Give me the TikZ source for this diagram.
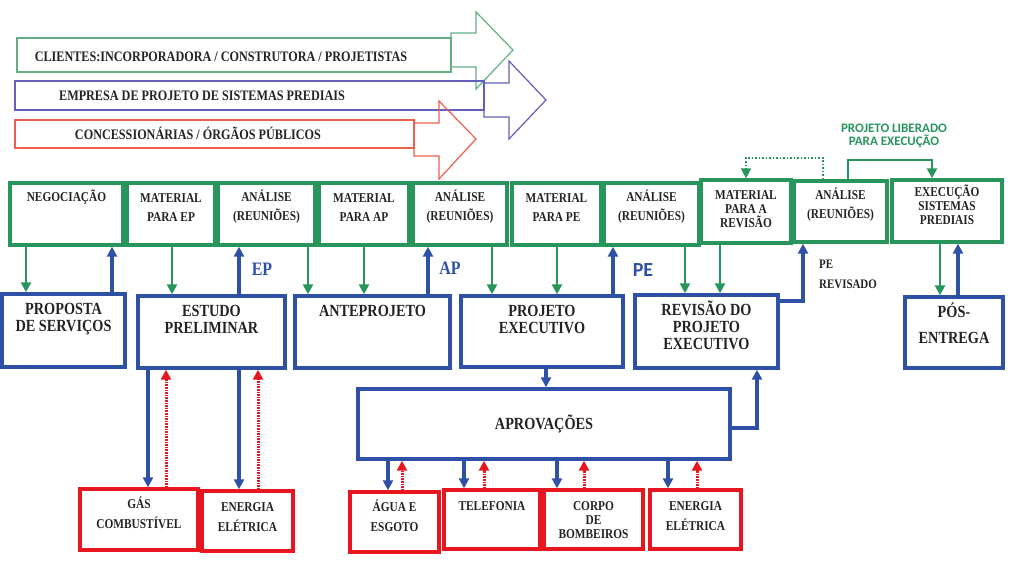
\documentclass[tikz,border=0pt]{standalone}
\usepackage{fontspec}
\setmainfont{Liberation Serif}[FakeStretch=0.84]
\newfontfamily\labelfont{Carlito}
\usepackage{tikz}
\usetikzlibrary{arrows.meta}

\definecolor{grn}{RGB}{40,150,92}
\definecolor{blu}{RGB}{46,80,165}
\definecolor{rd}{RGB}{232,22,30}
\definecolor{txt}{RGB}{35,35,35}
\definecolor{garr}{RGB}{100,175,130}
\definecolor{barr}{RGB}{100,95,190}
\definecolor{rarr}{RGB}{236,95,75}

\begin{document}
\begin{tikzpicture}[
    x=1pt, y=-1pt,
    box/.style={rectangle, line width=3.4pt, inner sep=0pt},
    gbox/.style={box, draw=grn},
    bbox/.style={box, draw=blu},
    rbox/.style={box, draw=rd},
    intext/.style={anchor=north, align=center, text=txt, inner sep=2pt},
    gtext/.style={intext, font=\fontsize{13.5}{19}\selectfont\bfseries, yshift=-6pt},
    btext/.style={intext, font=\fontsize{17}{17}\selectfont\bfseries, yshift=-5pt},
    rtext/.style={intext, font=\fontsize{13.5}{20}\selectfont\bfseries, yshift=-7.5pt},
    lower/.style={yshift=-4pt},
    outline/.style={line width=1.2pt},
    atext/.style={font=\fontsize{14.5}{15}\selectfont\bfseries, text=txt},
    tip/.style={-{Triangle[length=10pt, width=10pt]}},
    gline/.style={tip, draw=grn, line width=2.8pt},
    bline/.style={tip, draw=blu, line width=3.2pt},
    rline/.style={tip, draw=rd, line width=3pt, dash pattern=on 1.5pt off 1.1pt},
    gdot/.style={tip, draw=grn, line width=2pt, dash pattern=on 1.5pt off 2pt},
    tag/.style={font=\fontsize{19}{19}\selectfont\bfseries, text=blu}
]
\useasboundingbox (0,0) rectangle (1017,563);

    % Participants (callout arrows)
    \draw[garr, outline] (17,38) rectangle (451,72);
    \draw[garr, outline] (451,38) -- (451,33) -- (476,33) -- (476,12) -- (513,50) -- (476,89) -- (476,67) -- (451,67);
    \node[atext] (clients) at (221,57) {CLIENTES:INCORPORADORA / CONSTRUTORA / PROJETISTAS};

    \draw[barr, outline] (15,81) rectangle (484,110);
    \draw[barr, outline] (484,110) -- (484,117) -- (509,117) -- (509,139) -- (546,100) -- (509,61) -- (509,83) -- (484,83);
    \node[atext] (company) at (202,96) {EMPRESA DE PROJETO DE SISTEMAS PREDIAIS};

    \draw[rarr, outline] (15,120) rectangle (414,148);
    \draw[rarr, outline] (414,148) -- (414,156) -- (439,156) -- (439,179) -- (476,139) -- (439,101) -- (439,123) -- (414,123);
    \node[atext] (utilities) at (198,133) {CONCESSIONÁRIAS / ÓRGÃOS PÚBLICOS};

    % Client steps
    \node[gbox, minimum width=113pt, minimum height=62pt, label={[gtext]north:NEGOCIAÇÃO}] (neg) at (66.5,214) {};
    \node[gbox, minimum width=88pt, minimum height=62pt, label={[gtext, lower]north:MATERIAL\\PARA EP}] (matep) at (171,214) {};
    \node[gbox, minimum width=97pt, minimum height=62pt, label={[gtext]north:ANÁLISE\\(REUNIÕES)}] (anaep) at (266.5,214) {};
    \node[gbox, minimum width=90pt, minimum height=62pt, label={[gtext, lower]north:MATERIAL\\PARA AP}] (matap) at (364,214) {};
    \node[gbox, minimum width=94pt, minimum height=62pt, label={[gtext]north:ANÁLISE\\(REUNIÕES)}] (anaap) at (460,214) {};
    \node[gbox, minimum width=89pt, minimum height=62pt, label={[gtext, lower]north:MATERIAL\\PARA PE}] (matpe) at (556.5,214) {};
    \node[gbox, minimum width=95pt, minimum height=62pt, label={[gtext]north:ANÁLISE\\(REUNIÕES)}] (anape) at (651.5,214) {};
    \node[gbox, minimum width=90pt, minimum height=63pt, label={[gtext, lower, font=\fontsize{13.5}{14}\selectfont\bfseries]north:MATERIAL\\PARA A\\REVISÃO}] (matrev) at (746,211.5) {};
    \node[gbox, minimum width=93pt, minimum height=61pt, label={[gtext]north:ANÁLISE\\(REUNIÕES)}] (anarev) at (840.5,211.5) {};
    \node[gbox, minimum width=110pt, minimum height=62pt, label={[gtext, yshift=2pt, font=\fontsize{13.5}{14}\selectfont\bfseries]north:EXECUÇÃO\\SISTEMAS\\PREDIAIS}] (exec) at (947,211) {};

    % Design company steps
    \node[bbox, minimum width=123pt, minimum height=73pt, label={[btext, lower]north:PROPOSTA\\DE SERVIÇOS}] (prop) at (63.5,330.5) {};
    \node[bbox, minimum width=147pt, minimum height=72pt, label={[btext, lower]north:ESTUDO\\PRELIMINAR}] (estudo) at (211.5,332) {};
    \node[bbox, minimum width=155pt, minimum height=72pt, label={[btext, lower]north:ANTEPROJETO}] (ante) at (372.5,332) {};
    \node[bbox, minimum width=162pt, minimum height=71pt, label={[btext, lower]north:PROJETO\\EXECUTIVO}] (projex) at (542,331.5) {};
    \node[bbox, minimum width=143pt, minimum height=73pt, label={[btext]north:REVISÃO DO\\PROJETO\\EXECUTIVO}] (revis) at (706.5,331.5) {};
    \node[bbox, minimum width=98pt, minimum height=71pt, label={[btext, font=\fontsize{17}{26}\selectfont\bfseries]north:PÓS-\\ENTREGA}] (pos) at (954,332.5) {};
    \node[bbox, minimum width=372pt, minimum height=70pt, font=\fontsize{17}{17}\selectfont\bfseries, text=txt] (aprov) at (544,424) {APROVAÇÕES};

    % Utilities
    \node[rbox, minimum width=118pt, minimum height=61pt, label={[rtext]north:GÁS\\COMBUSTÍVEL}] (gas) at (139,519.5) {};
    \node[rbox, minimum width=91pt, minimum height=60pt, label={[rtext, lower]north:ENERGIA\\ELÉTRICA}] (enela) at (247.5,521) {};
    \node[rbox, minimum width=89pt, minimum height=60pt, label={[rtext]north:ÁGUA E\\ESGOTO}] (agua) at (394.5,522) {};
    \node[rbox, minimum width=96pt, minimum height=59pt, label={[rtext, lower]north:TELEFONIA}] (tele) at (492,519.5) {};
    \node[rbox, minimum width=99pt, minimum height=59pt, label={[rtext, lower, font=\fontsize{13.5}{14}\selectfont\bfseries]north:CORPO\\DE\\BOMBEIROS}] (corpo) at (593.5,519.5) {};
    \node[rbox, minimum width=91pt, minimum height=59pt, label={[rtext, lower]north:ENERGIA\\ELÉTRICA}] (enelb) at (695.5,519.5) {};

    % Material down to the design steps
    \draw[gline] (26,0 |- neg.south) -- (26,0 |- prop.north);
    \draw[gline] (172,0 |- matep.south) -- (172,0 |- estudo.north);
    \draw[gline] (308,0 |- anaep.south) -- (308,0 |- ante.north);
    \draw[gline] (364,0 |- matap.south) -- (364,0 |- ante.north);
    \draw[gline] (492,0 |- anaap.south) -- (492,0 |- projex.north);
    \draw[gline] (557,0 |- matpe.south) -- (557,0 |- projex.north);
    \draw[gline] (685,0 |- anape.south) -- (685,0 |- revis.north);
    \draw[gline] (720,0 |- matrev.south) -- (720,0 |- revis.north);
    \draw[gline] (940,0 |- exec.south) -- (940,0 |- pos.north);

    % Deliverables up to the client
    \draw[bline] (112,0 |- prop.north) -- (112,0 |- neg.south);
    \draw[bline] (239,0 |- estudo.north) -- (239,0 |- anaep.south);
    \draw[bline] (428,0 |- ante.north) -- (428,0 |- anaap.south);
    \draw[bline] (613,0 |- projex.north) -- (613,0 |- anape.south);
    \draw[bline] (958,0 |- pos.north) -- (958,0 |- exec.south);
    \draw[bline] (revis.east |- 0,301) -| (803,0 |- anarev.south);
    \node[tag] (eptag) at (262,269) {EP};
    \node[tag] (aptag) at (450,268) {AP};
    \node[tag, font=\labelfont\fontsize{20}{20}\selectfont\bfseries] (petag) at (643,270) {PE};
    \node[anchor=west, align=left, text=txt, font=\fontsize{13}{20}\selectfont\bfseries, inner sep=0pt] (revtag) at (819,274) {PE\\REVISADO};

    % Release loops
    \draw[gdot] (823,0 |- anarev.north) -- (823,158) -| (746,0 |- matrev.north);
    \draw[gline] (848,0 |- anarev.north) -- (848,160) -| (932,0 |- exec.north);
    \node[align=center, text=grn, font=\labelfont\fontsize{13}{13}\selectfont\bfseries] (release) at (894,136) {PROJETO LIBERADO\\PARA EXECUÇÃO};

    % Approvals
    \draw[bline] (546,0 |- projex.south) -- (546,0 |- aprov.north);
    \draw[bline] (aprov.east |- 0,428) -| (757,0 |- revis.south);
    \draw[bline] (388,0 |- aprov.south) -- (388,0 |- agua.north);
    \draw[rline] (402,0 |- agua.north) -- (402,0 |- aprov.south);
    \draw[bline] (464,0 |- aprov.south) -- (464,0 |- tele.north);
    \draw[rline] (484,0 |- tele.north) -- (484,0 |- aprov.south);
    \draw[bline] (557,0 |- aprov.south) -- (557,0 |- corpo.north);
    \draw[rline] (584,0 |- corpo.north) -- (584,0 |- aprov.south);
    \draw[bline] (668,0 |- aprov.south) -- (668,0 |- enelb.north);
    \draw[rline] (697,0 |- enelb.north) -- (697,0 |- aprov.south);

    % Consultations from the preliminary study
    \draw[bline] (148,0 |- estudo.south) -- (148,0 |- gas.north);
    \draw[rline] (166,0 |- gas.north) -- (166,0 |- estudo.south);
    \draw[bline] (239,0 |- estudo.south) -- (239,0 |- enela.north);
    \draw[rline] (258,0 |- enela.north) -- (258,0 |- estudo.south);

\end{tikzpicture}
\end{document}
